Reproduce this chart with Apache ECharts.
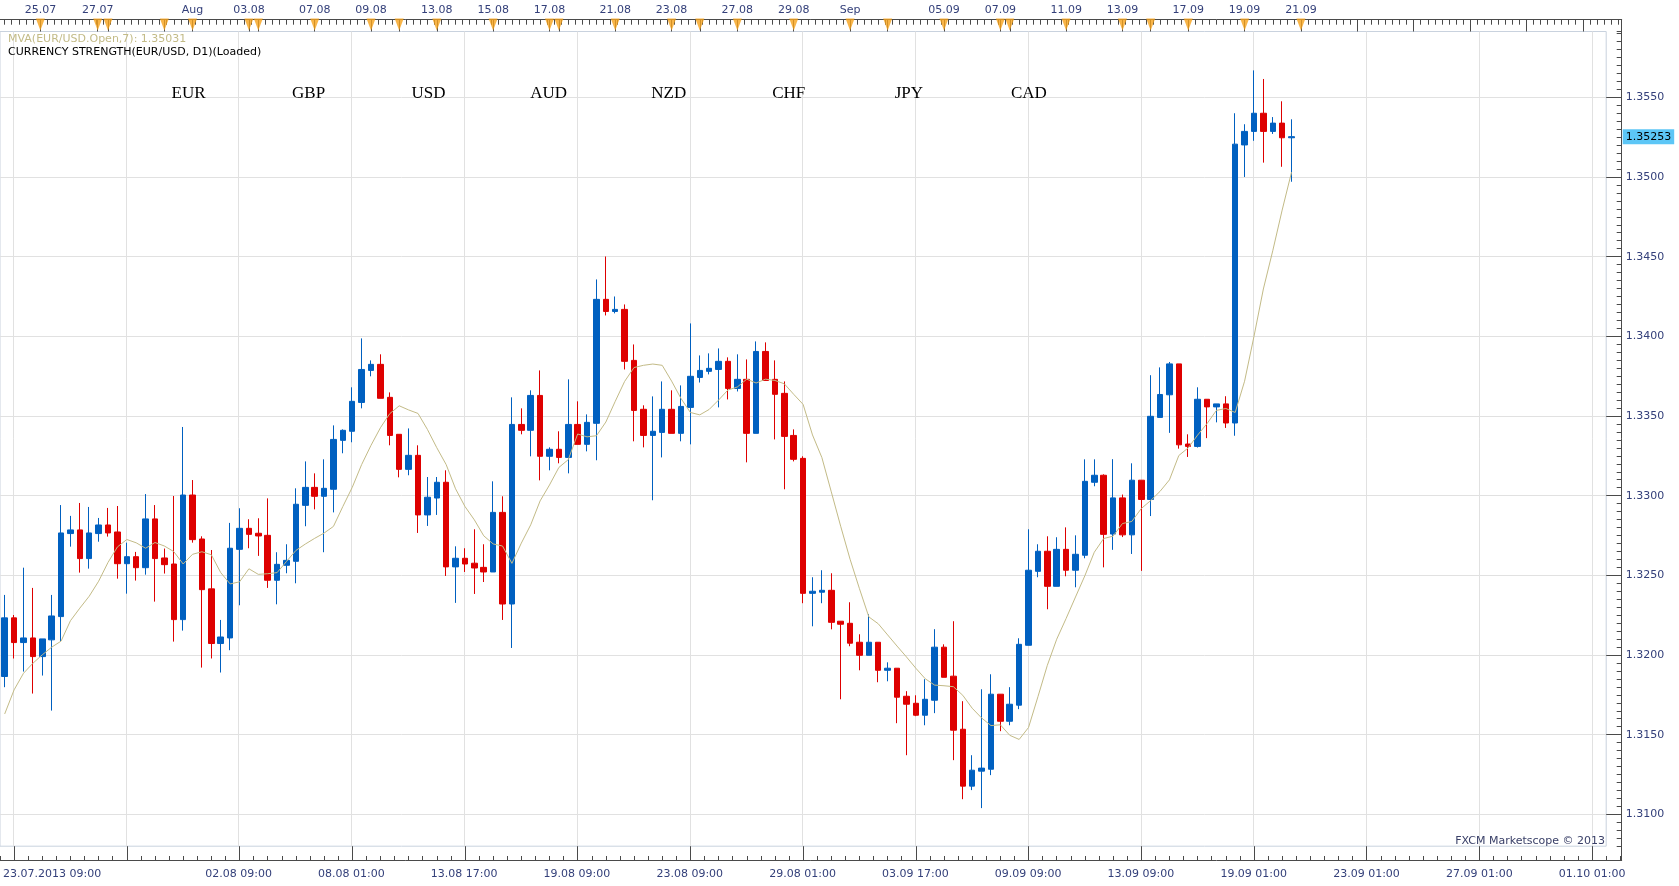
<!DOCTYPE html>
<html><head><meta charset="utf-8">
<script src="https://cdn.jsdelivr.net/npm/echarts@6/dist/echarts.min.js"></script>
<style>html,body{margin:0;padding:0;background:#fff;}#c{width:1679px;height:886px;}</style>
</head><body><div id="c"></div>
<script>
// ---------- DATA ----------
const categories = [
'23.07 01:00','23.07 09:00','23.07 17:00','24.07 01:00','24.07 09:00','24.07 17:00',
'25.07 01:00','25.07 09:00','25.07 17:00','26.07 01:00','26.07 09:00','26.07 17:00',
'29.07 01:00','29.07 09:00','29.07 17:00','30.07 01:00','30.07 09:00','30.07 17:00',
'31.07 01:00','31.07 09:00','31.07 17:00','01.08 01:00','01.08 09:00','01.08 17:00',
'02.08 01:00','02.08 09:00','02.08 17:00','04.08 17:00',
'05.08 01:00','05.08 09:00','05.08 17:00','06.08 01:00','06.08 09:00','06.08 17:00',
'07.08 01:00','07.08 09:00','07.08 17:00','08.08 01:00','08.08 09:00','08.08 17:00',
'09.08 01:00','09.08 09:00','09.08 17:00','11.08 17:00',
'12.08 01:00','12.08 09:00','12.08 17:00','13.08 01:00','13.08 09:00','13.08 17:00',
'14.08 01:00','14.08 09:00','14.08 17:00','15.08 01:00','15.08 09:00','15.08 17:00',
'16.08 01:00','16.08 09:00','16.08 17:00','18.08 17:00',
'19.08 01:00','19.08 09:00','19.08 17:00','20.08 01:00','20.08 09:00','20.08 17:00',
'21.08 01:00','21.08 09:00','21.08 17:00','22.08 01:00','22.08 09:00','22.08 17:00',
'23.08 01:00','23.08 09:00','23.08 17:00','25.08 17:00',
'26.08 01:00','26.08 09:00','26.08 17:00','27.08 01:00','27.08 09:00','27.08 17:00',
'28.08 01:00','28.08 09:00','28.08 17:00','29.08 01:00','29.08 09:00','29.08 17:00',
'30.08 01:00','30.08 09:00','30.08 17:00','01.09 17:00',
'02.09 01:00','02.09 09:00','02.09 17:00','03.09 01:00','03.09 09:00','03.09 17:00',
'04.09 01:00','04.09 09:00','04.09 17:00','05.09 01:00','05.09 09:00','05.09 17:00',
'06.09 01:00','06.09 09:00','06.09 17:00','08.09 17:00',
'09.09 01:00','09.09 09:00','09.09 17:00','10.09 01:00','10.09 09:00','10.09 17:00',
'11.09 01:00','11.09 09:00','11.09 17:00','12.09 01:00','12.09 09:00','12.09 17:00',
'13.09 01:00','13.09 09:00','13.09 17:00','15.09 17:00',
'16.09 01:00','16.09 09:00','16.09 17:00','17.09 01:00','17.09 09:00','17.09 17:00',
'18.09 01:00','18.09 09:00','18.09 17:00','19.09 01:00','19.09 09:00','19.09 17:00',
'20.09 01:00','20.09 09:00','20.09 17:00',
'21.09 01:00','21.09 09:00','21.09 17:00','22.09 01:00','22.09 09:00','22.09 17:00',
'23.09 01:00','23.09 09:00','23.09 17:00','24.09 01:00','24.09 09:00','24.09 17:00',
'25.09 01:00','25.09 09:00','25.09 17:00','26.09 01:00','26.09 09:00','26.09 17:00',
'27.09 01:00','27.09 09:00','27.09 17:00','28.09 01:00','28.09 09:00','28.09 17:00',
'29.09 01:00','29.09 09:00','29.09 17:00','30.09 01:00','30.09 09:00','30.09 17:00',
'01.10 01:00','01.10 09:00'
];
const yearText = '2013';

const opens = [
1.31865,1.32233,1.32078,1.32107,1.31990,1.32095,1.32241,1.32762,1.32785,1.32605,
1.32762,1.32816,1.32772,1.32573,1.32617,1.32548,1.32854,1.32609,1.32571,1.32222,
1.33004,1.32728,1.32415,1.32072,1.32107,1.32663,1.32795,1.32764,1.32751,1.32469,
1.32563,1.32588,1.32939,1.33052,1.32996,1.33040,1.33347,1.33404,1.33585,1.33786,
1.33824,1.33617,1.33385,1.33165,1.33253,1.32879,1.32985,1.33084,1.32553,1.32607,
1.32576,1.32550,1.32521,1.32895,1.32320,1.33447,1.33410,1.33629,1.33247,1.33291,
1.33240,1.33447,1.33322,1.33454,1.34232,1.34156,1.34169,1.33849,1.33542,1.33378,
1.33397,1.33542,1.33391,1.33554,1.33742,1.33780,1.33792,1.33843,1.33673,1.33730,
1.33391,1.33905,1.33730,1.33642,1.33378,1.33234,1.32387,1.32394,1.32406,1.32212,
1.32199,1.32080,1.31998,1.32080,1.31904,1.31917,1.31741,1.31697,1.31622,1.31716,
1.32049,1.31867,1.31534,1.31177,1.31271,1.31283,1.31754,1.31584,1.31685,1.32061,
1.32525,1.32651,1.32431,1.32663,1.32532,1.32626,1.33084,1.33128,1.32759,1.32986,
1.32754,1.33097,1.32976,1.33491,1.33633,1.33827,1.33324,1.33309,1.33605,1.33557,
1.33576,1.33456,1.35201,1.35286,1.35400,1.35286,1.35338,1.35246
];
const closes = [
1.32233,1.32078,1.32107,1.31990,1.32101,1.32245,1.32766,1.32785,1.32605,1.32766,
1.32816,1.32766,1.32573,1.32617,1.32548,1.32854,1.32605,1.32567,1.32222,1.33004,
1.32724,1.32410,1.32072,1.32113,1.32670,1.32795,1.32757,1.32747,1.32469,1.32569,
1.32594,1.32946,1.33052,1.32996,1.33046,1.33353,1.33410,1.33592,1.33792,1.33824,
1.33611,1.33378,1.33165,1.33253,1.32879,1.32990,1.33084,1.32553,1.32607,1.32571,
1.32546,1.32521,1.32895,1.32320,1.33447,1.33410,1.33629,1.33247,1.33291,1.33240,
1.33447,1.33322,1.33460,1.34232,1.34156,1.34169,1.33843,1.33535,1.33378,1.33404,
1.33542,1.33391,1.33560,1.33749,1.33786,1.33799,1.33843,1.33673,1.33730,1.33391,
1.33905,1.33723,1.33636,1.33372,1.33228,1.32387,1.32400,1.32406,1.32205,1.32193,
1.32074,1.31998,1.32080,1.31904,1.31917,1.31735,1.31691,1.31622,1.31722,1.32049,
1.31860,1.31528,1.31177,1.31277,1.31290,1.31754,1.31584,1.31691,1.32067,1.32532,
1.32651,1.32431,1.32663,1.32532,1.32632,1.33090,1.33128,1.32757,1.32986,1.32754,
1.33097,1.32976,1.33498,1.33635,1.33827,1.33319,1.33309,1.33605,1.33557,1.33576,
1.33456,1.35206,1.35286,1.35400,1.35286,1.35338,1.35246,1.35253
];
const lows = [
1.31798,1.31978,1.31896,1.31758,1.31871,1.31651,1.32084,1.32680,1.32517,1.32542,
1.32711,1.32743,1.32479,1.32385,1.32467,1.32504,1.32335,1.32511,1.32084,1.32153,
1.32705,1.31921,1.31978,1.31890,1.32030,1.32312,1.32670,1.32622,1.32421,1.32318,
1.32513,1.32450,1.32808,1.32914,1.32645,1.32895,1.33266,1.33335,1.33548,1.33749,
1.33611,1.33316,1.33115,1.33128,1.32766,1.32810,1.32879,1.32496,1.32327,1.32521,
1.32383,1.32458,1.32521,1.32220,1.32044,1.33385,1.33247,1.33096,1.33159,1.33203,
1.33140,1.33322,1.33278,1.33222,1.34131,1.34144,1.33792,1.33341,1.33303,1.32971,
1.33240,1.33391,1.33341,1.33322,1.33710,1.33761,1.33554,1.33604,1.33654,1.33209,
1.33391,1.33723,1.33353,1.33040,1.33215,1.32325,1.32180,1.32325,1.32161,1.31722,
1.32055,1.31904,1.31998,1.31829,1.31835,1.31572,1.31371,1.31616,1.31559,1.31635,
1.31860,1.31340,1.31095,1.31152,1.31039,1.31246,1.31522,1.31559,1.31660,1.32061,
1.32488,1.32287,1.32431,1.32494,1.32425,1.32607,1.33059,1.32550,1.32660,1.32740,
1.32634,1.32528,1.32872,1.33491,1.33394,1.33295,1.33243,1.33302,1.33361,1.33460,
1.33425,1.33376,1.35000,1.35227,1.35090,1.35270,1.35064,1.34970
];
const highs = [
1.32377,1.32251,1.32548,1.32421,1.32101,1.32377,1.32941,1.32873,1.32954,1.32929,
1.32860,1.32923,1.32935,1.32705,1.32647,1.33010,1.32941,1.32668,1.32998,1.33431,
1.33098,1.32745,1.32659,1.32220,1.32829,1.32921,1.32852,1.32858,1.32983,1.32645,
1.32695,1.33046,1.33215,1.33140,1.33228,1.33441,1.33416,1.33680,1.33987,1.33849,
1.33887,1.33648,1.33385,1.33422,1.33316,1.33117,1.33117,1.33159,1.32682,1.32670,
1.32789,1.32695,1.33090,1.32996,1.33617,1.33548,1.33661,1.33786,1.33303,1.33404,
1.33730,1.33592,1.33510,1.34357,1.34501,1.34250,1.34200,1.33949,1.33567,1.33623,
1.33717,1.33661,1.33692,1.34081,1.33880,1.33893,1.33924,1.33868,1.33887,1.33855,
1.33968,1.33962,1.33849,1.33717,1.33416,1.33247,1.32488,1.32532,1.32513,1.32212,
1.32331,1.32130,1.32256,1.32080,1.31954,1.31917,1.31773,1.31747,1.31848,1.32162,
1.32067,1.32212,1.31710,1.31371,1.31785,1.31879,1.31754,1.31798,1.32105,1.32789,
1.32695,1.32745,1.32739,1.32801,1.32751,1.33228,1.33228,1.33134,1.33229,1.33007,
1.33203,1.33097,1.33756,1.33805,1.33839,1.33827,1.33385,1.33680,1.33605,1.33576,
1.33624,1.35400,1.35331,1.35669,1.35615,1.35376,1.35475,1.35362
];
// MVA(EUR/USD.Open,7) as drawn
const ma7 = [
1.31630,1.31781,1.31885,1.31948,1.32001,1.32049,1.32087,1.32215,1.32294,1.32369,
1.32463,1.32581,1.32678,1.32725,1.32704,1.32670,1.32706,1.32684,1.32649,1.32571,
1.32632,1.32648,1.32629,1.32517,1.32446,1.32459,1.32541,1.32506,1.32510,1.32517,
1.32587,1.32656,1.32696,1.32732,1.32765,1.32807,1.32932,1.33052,1.33195,1.33316,
1.33426,1.33515,1.33564,1.33538,1.33516,1.33416,1.33301,1.33195,1.33043,1.32932,
1.32848,1.32748,1.32697,1.32684,1.32575,1.32702,1.32817,1.32967,1.33067,1.33177,
1.33226,1.33387,1.33369,1.33376,1.33462,1.33592,1.33717,1.33804,1.33818,1.33826,
1.33818,1.33719,1.33610,1.33522,1.33507,1.33541,1.33600,1.33663,1.33682,1.33731,
1.33707,1.33731,1.33723,1.33702,1.33636,1.33573,1.33381,1.33239,1.33024,1.32808,
1.32601,1.32416,1.32239,1.32196,1.32126,1.32056,1.31988,1.31917,1.31851,1.31811,
1.31807,1.31801,1.31747,1.31666,1.31605,1.31557,1.31562,1.31496,1.31470,1.31545,
1.31738,1.31935,1.32099,1.32229,1.32364,1.32498,1.32645,1.32731,1.32746,1.32825,
1.32838,1.32919,1.32969,1.33027,1.33099,1.33252,1.33300,1.33380,1.33452,1.33535,
1.33547,1.33522,1.33718,1.33999,1.34297,1.34537,1.34792,1.35030
];
const maLabel = 'MVA(EUR/USD.Open,7): 1.35031';
const indicatorLabel = 'CURRENCY STRENGTH(EUR/USD, D1)(Loaded)';
const currencies = ['EUR','GBP','USD','AUD','NZD','CHF','JPY','CAD'];
const yLabels = ['1.3100','1.3150','1.3200','1.3250','1.3300','1.3350','1.3400','1.3450','1.3500','1.3550'];
const topLabels = ['25.07','27.07','Aug','03.08','07.08','09.08','13.08','15.08','17.08','21.08','23.08',
  '27.08','29.08','Sep','05.09','07.09','11.09','13.09','17.09','19.09','21.09'];
const topLabelIdx = [3.8,9.9,20,26,33,39,46,52,58,65,71,78,84,90,100,106,113,119,126,132,138];
const markerIdx = [3.8,9.9,11,17,20,26,27,33,39,42,46,52,58,59,65,71,74,78,84,90,94,100,106,107,113,119,122,126,132,138];
const futureDayIdx = [144,150,156,162,168];
const copyright = 'FXCM Marketscope \u00a9 2013';

// ---------- STYLE / LAYOUT ----------
const BLUE = '#0060c0', RED = '#de0000', MAC = '#c3bb87';
const AX = '#4a4a4a', LBL = '#34407a', GRIDC = '#e1e1e1';
const FONT = 'DejaVu Sans';
const N = categories.length;
const STEP = 9.413;                 // px per candle
const X0 = 1.29;                    // px centre of first candle
const PLOT_TOP = 31.5, PLOT_BOTTOM = 846.2, RULER_TOP = 19.7, AXIS_BOTTOM = 860, AXIS_RIGHT = 1621.7;
const gLeft = X0 - STEP / 2;
const gRight = 1679 - (gLeft + N * STEP);
const outerRight = 1679 - AXIS_RIGHT;
const outerMax = -0.5 + (AXIS_RIGHT - gLeft) / STEP;
const Y_MIN = 1.3080, Y_MAX = 1.35913;

const yTickVals = yLabels.map(Number);
const lastClose = closes[closes.length - 1];
const candleData = opens.map((o, i) => [o, closes[i], lows[i], highs[i]]);
const isMajor = i => (i - 1) % 12 === 0;
const majorIdx = []; for (let v = 1; v < N; v += 12) majorIdx.push(v);
const bottomMinor = []; for (let v = -0.5; v <= outerMax; v += 1.5) bottomMinor.push(v);
const topMinor = []; for (let v = 138 - 0.75 * 184; v <= outerMax; v += 0.75) if (v >= -0.5) topMinor.push(v);
const topMajor = markerIdx.concat(futureDayIdx);
const T = 'rgba(0,0,0,0)';
const splitColors = [T, T, T, T, GRIDC, T, T, T, T, T];
const xData = categories.map((c, i) => i === 1 ? { value: c, textStyle: { align: 'left', padding: [0, 0, 0, -10] } } : c);
const noAxis = { axisLine: { show: false, onZero: false }, axisTick: { show: false }, axisLabel: { show: false }, splitLine: { show: false } };

const chart = echarts.init(document.getElementById('c'));
chart.setOption({
  animation: false,
  backgroundColor: '#ffffff',
  grid: [
    { left: gLeft, right: gRight, top: PLOT_TOP, bottom: 886 - PLOT_BOTTOM, show: true, borderColor: '#c9d2de', borderWidth: 1, backgroundColor: 'rgba(0,0,0,0)' },
    { left: gLeft, right: outerRight, top: RULER_TOP, height: PLOT_TOP - RULER_TOP, show: false },
    { left: gLeft, right: outerRight, top: PLOT_BOTTOM, height: AXIS_BOTTOM - PLOT_BOTTOM, show: false },
    { left: X0, right: 1679 - (X0 + (N - 1) * STEP), top: PLOT_TOP, bottom: 886 - PLOT_BOTTOM, show: false }
  ],
  xAxis: [
    Object.assign({ gridIndex: 0, type: 'category', data: categories, boundaryGap: true }, noAxis),
    { gridIndex: 3, type: 'category', data: xData, boundaryGap: false, position: 'bottom', offset: AXIS_BOTTOM - PLOT_BOTTOM,
      axisLine: { show: false, onZero: false }, axisTick: { show: false },
      axisLabel: { show: true, interval: (i) => i === 1 || (i >= 25 && isMajor(i)), margin: 9,
        formatter: (v, i) => i === 1 ? v.slice(0, 5) + '.' + yearText + v.slice(5) : v,
        color: LBL, fontSize: 11, fontFamily: FONT },
      splitLine: { show: true, interval: (i) => isMajor(i), lineStyle: { color: GRIDC, width: 1 } } },
    { gridIndex: 1, type: 'value', min: -0.5, max: outerMax, position: 'top',
      axisLine: { show: true, onZero: false, lineStyle: { color: AX } }, splitLine: { show: false },
      axisTick: { show: true, inside: true, length: 5, customValues: topMinor, lineStyle: { color: AX } },
      axisLabel: { show: true, customValues: topLabelIdx, margin: 4, color: LBL, fontSize: 11, fontFamily: FONT,
        formatter: (v) => topLabels[topLabelIdx.indexOf(v)] } },
    { gridIndex: 1, type: 'value', min: -0.5, max: outerMax, position: 'top',
      axisLine: { show: false, onZero: false }, axisLabel: { show: false }, splitLine: { show: false },
      axisTick: { show: true, inside: true, length: PLOT_TOP - RULER_TOP, customValues: topMajor, lineStyle: { color: AX } } },
    { gridIndex: 2, type: 'value', min: -0.5, max: outerMax, position: 'bottom',
      axisLine: { show: true, onZero: false, lineStyle: { color: AX } }, axisLabel: { show: false }, splitLine: { show: false },
      axisTick: { show: true, inside: true, length: 4, customValues: bottomMinor, lineStyle: { color: AX } } },
    { gridIndex: 2, type: 'value', min: -0.5, max: outerMax, position: 'bottom',
      axisLine: { show: false, onZero: false }, axisLabel: { show: false }, splitLine: { show: false },
      axisTick: { show: true, inside: true, length: AXIS_BOTTOM - PLOT_BOTTOM, customValues: majorIdx, lineStyle: { color: AX } } }
  ],
  yAxis: [
    { gridIndex: 0, type: 'value', min: Y_MIN, max: Y_MAX, interval: 0.0005, position: 'right', offset: AXIS_RIGHT - (1679 - gRight),
      axisLine: { show: true, onZero: false, lineStyle: { color: AX } },
      axisTick: { show: true, inside: true, length: 5, lineStyle: { color: AX } },
      axisLabel: { show: false },
      splitLine: { show: true, lineStyle: { color: splitColors, width: 1 } } },
    { gridIndex: 0, type: 'value', min: Y_MIN, max: Y_MAX, position: 'right', offset: AXIS_RIGHT - (1679 - gRight),
      axisLine: { show: false, onZero: false }, splitLine: { show: false },
      axisTick: { show: true, inside: true, length: AXIS_RIGHT - (1679 - gRight), customValues: yTickVals, lineStyle: { color: AX } },
      axisLabel: { show: true, customValues: yTickVals, margin: 4, color: LBL, fontSize: 11, fontFamily: FONT,
        formatter: (v) => yLabels[yTickVals.indexOf(v)] } },
    { gridIndex: 0, type: 'value', min: Y_MIN, max: Y_MAX, position: 'right', offset: AXIS_RIGHT - (1679 - gRight),
      axisLine: { show: false, onZero: false }, axisTick: { show: false }, splitLine: { show: false },
      axisLabel: { show: true, customValues: [lastClose], margin: 1, color: '#000', fontSize: 11, fontFamily: FONT,
        backgroundColor: '#5cc6f6', padding: [2, 3, 2, 3], formatter: (v) => v.toFixed(5) } },
    { gridIndex: 1, type: 'value', min: 0, max: 1, position: 'right',
      axisLine: { show: true, onZero: false, lineStyle: { color: AX } }, axisTick: { show: false }, axisLabel: { show: false }, splitLine: { show: false } },
    { gridIndex: 2, type: 'value', min: 0, max: 1, position: 'right',
      axisLine: { show: true, onZero: false, lineStyle: { color: AX } }, axisTick: { show: false }, axisLabel: { show: false }, splitLine: { show: false } },
    Object.assign({ gridIndex: 3, type: 'value', min: Y_MIN, max: Y_MAX }, noAxis)
  ],
  series: [
    { type: 'candlestick', xAxisIndex: 0, yAxisIndex: 0, data: candleData, barWidth: 6, z: 3,
      itemStyle: { color: BLUE, color0: RED, borderColor: BLUE, borderColor0: RED, borderWidth: 1 } },
    { type: 'line', xAxisIndex: 0, yAxisIndex: 0, data: ma7, showSymbol: false, z: 4, silent: true,
      lineStyle: { color: MAC, width: 1 } },
    { type: 'scatter', xAxisIndex: 2, yAxisIndex: 3, data: markerIdx.map(v => [v, 0.6]), z: 6, silent: true, clip: false,
      symbol: 'triangle', symbolRotate: 180, symbolSize: [9, 12], itemStyle: { color: '#f6a31c' } }
  ],
  graphic: {
    elements: [
      { type: 'text', x: 8, y: 39.5, z: 100, style: { text: maLabel, fill: MAC, font: "11px 'DejaVu Sans'", verticalAlign: 'middle' } },
      { type: 'text', x: 8, y: 52.5, z: 100, style: { text: indicatorLabel, fill: '#000', font: "11px 'DejaVu Sans'", verticalAlign: 'middle' } }
    ].concat(currencies.map((c, k) => ({ type: 'text', x: 188.5 + 120.05 * k, y: 94, z: 100,
        style: { text: c, fill: '#000', font: "17px 'Liberation Serif'", align: 'center', verticalAlign: 'middle' } })))
     .concat([{ type: 'text', x: 1605, y: 841.5, z: 100, style: { text: copyright, fill: '#3a4068', font: "11px 'DejaVu Sans'", align: 'right', verticalAlign: 'middle' } }])
  }
});
</script>
</body></html>
